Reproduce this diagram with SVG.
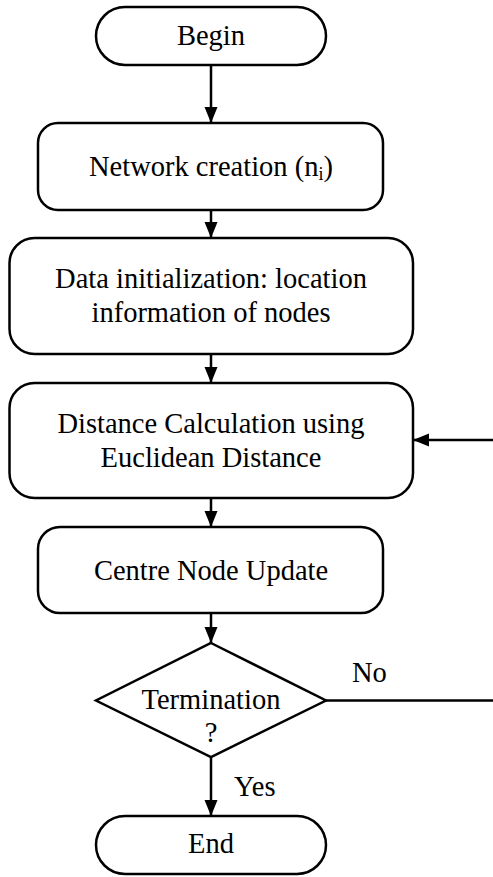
<svg xmlns="http://www.w3.org/2000/svg" width="493" height="877" viewBox="0 0 493 877">
<style>
.box{fill:#fff;stroke:#000;stroke-width:2.5}
.t{font-family:"Liberation Serif","Times New Roman",serif;font-size:28.5px;fill:#000;text-anchor:middle}
.l{font-family:"Liberation Serif","Times New Roman",serif;font-size:28.5px;fill:#000}
.c{fill:none;stroke:#000;stroke-width:2.5}
</style>
<defs>
<marker id="ah" markerUnits="userSpaceOnUse" markerWidth="16" markerHeight="16" viewBox="0 0 16 16" refX="16" refY="8" orient="auto">
<path d="M0,1.5 L16,8 L0,14.5 Z" fill="#000"/>
</marker>
</defs>
<g id="connectors">
<line class="c" x1="211" y1="65" x2="211" y2="123" marker-end="url(#ah)"/>
<line class="c" x1="211" y1="210" x2="211" y2="238" marker-end="url(#ah)"/>
<line class="c" x1="211" y1="354" x2="211" y2="383" marker-end="url(#ah)"/>
<line class="c" x1="211" y1="498" x2="211" y2="527" marker-end="url(#ah)"/>
<line class="c" x1="211" y1="613" x2="211" y2="643" marker-end="url(#ah)"/>
<line class="c" x1="211" y1="757" x2="211" y2="816" marker-end="url(#ah)"/>
<line class="c" x1="326" y1="700.5" x2="493" y2="700.5"/>
<line class="c" x1="493" y1="440" x2="413" y2="440" marker-end="url(#ah)"/>
<text class="l" x="352" y="682">No</text>
<text class="l" x="234" y="796">Yes</text>
</g>
<g id="begin">
<rect class="box" x="96" y="7" width="230" height="58" rx="29"/>
<text class="t" x="211" y="45">Begin</text>
</g>
<g id="network">
<rect class="box" x="38" y="123" width="345" height="87" rx="20"/>
<text class="t" x="211" y="176">Network creation (n<tspan font-size="18" dy="4">i</tspan><tspan dy="-4">)</tspan></text>
</g>
<g id="data">
<rect class="box" x="9.5" y="238" width="403.5" height="116" rx="25"/>
<text class="t" x="211" y="288">Data initialization: location</text>
<text class="t" x="211" y="322">information of nodes</text>
</g>
<g id="distance">
<rect class="box" x="9.5" y="383" width="403.5" height="115" rx="25"/>
<text class="t" x="211" y="433">Distance Calculation using</text>
<text class="t" x="211" y="467">Euclidean Distance</text>
</g>
<g id="centre">
<rect class="box" x="38" y="527" width="345" height="86" rx="22"/>
<text class="t" x="211" y="580">Centre Node Update</text>
</g>
<g id="termination">
<polygon class="box" points="211,643 326,700.5 211,757 96,700.5"/>
<text class="t" x="211" y="709">Termination</text>
<text class="t" x="211" y="742">?</text>
</g>
<g id="end">
<rect class="box" x="96" y="816" width="230" height="58" rx="29"/>
<text class="t" x="211" y="853">End</text>
</g>
</svg>
